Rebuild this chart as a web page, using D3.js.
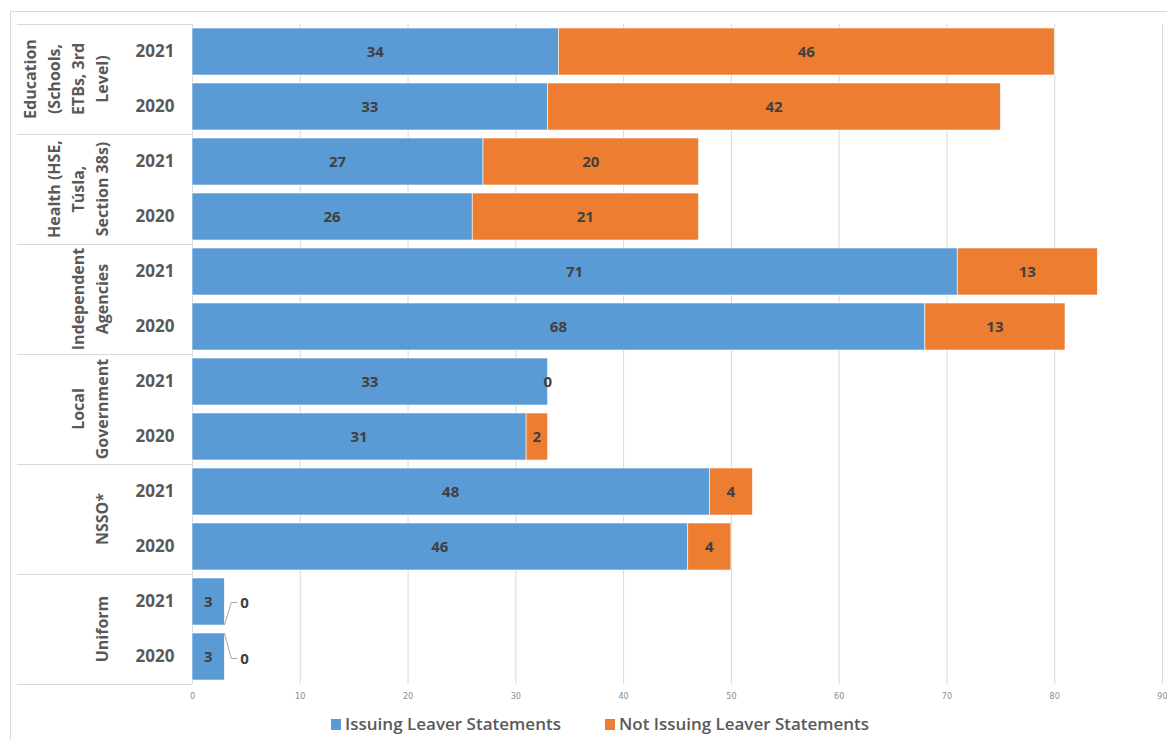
<!DOCTYPE html>
<html>
<head>
<meta charset="utf-8">
<script src="https://cdn.jsdelivr.net/npm/d3@7"></script>
<style>
  body { margin: 0; background: #fff; }
  text { font-family: "Open Sans", sans-serif; }
</style>
</head>
<body>
<div id="chart"></div>
<script>
// data
var categories = ["Education (Schools, ETBs, 3rd Level)", "Health (HSE, Túsla, Section 38s)",
  "Independent Agencies", "Local Government", "NSSO*", "Uniform"];
var categoryLines = [["Education", "(Schools,", "ETBs, 3rd", "Level)"],
  ["Health (HSE,", "Túsla,", "Section 38s)"],
  ["Independent", "Agencies"], ["Local", "Government"], ["NSSO*"], ["Uniform"]];
var years = ["2021", "2020"];
var issuing = [34, 33, 27, 26, 71, 68, 33, 31, 48, 46, 3, 3];
var notIssuing = [46, 42, 20, 21, 13, 13, 0, 2, 4, 4, 0, 0];
var seriesNames = ["Issuing Leaver Statements", "Not Issuing Leaver Statements"];
var xTicks = [0, 10, 20, 30, 40, 50, 60, 70, 80, 90];

var W = 1167, H = 740;
var margin = {top: 24, left: 192, right: 5, bottom: 56};
var width = W - margin.left - margin.right,
    height = H - margin.top - margin.bottom;

var svg = d3.select("#chart").append("svg")
  .attr("width", W).attr("height", H);

// outer frame
svg.append("rect")
  .attr("x", 10.5).attr("y", 11.5).attr("width", W).attr("height", H)
  .attr("fill", "none").attr("stroke", "#d9d9d9");

var g = svg.append("g").attr("transform", `translate(${margin.left},${margin.top})`);

// build rows
var rows = [];
categories.forEach(function(c, ci) {
  years.forEach(function(y, yi) {
    var i = ci * years.length + yi;
    rows.push({key: c + "|" + y, cat: ci, year: y, a: issuing[i], b: notIssuing[i]});
  });
});

var x = d3.scaleLinear().domain([0, 90]).range([0, 1162 - margin.left]);
var y = d3.scaleBand().domain(rows.map(d => d.key)).range([0, height])
  .paddingInner(0.145).paddingOuter(0.0725);

var color = d3.scaleOrdinal().domain(seriesNames).range(["#5b9bd5", "#ed7d31"]);

// gridlines
g.append("g")
  .call(d3.axisBottom(x).tickValues(xTicks).tickSize(height).tickFormat(""))
  .call(s => s.select(".domain").remove())
  .call(s => s.selectAll("line").attr("stroke", "#d9d9d9"));

// tick labels
g.append("g")
  .attr("transform", `translate(0,${height})`)
  .call(d3.axisBottom(x).tickValues(xTicks).tickSize(0).tickPadding(9))
  .call(s => s.select(".domain").remove())
  .call(s => s.selectAll("text").attr("fill", "#8c8c8c")
    .style("font-size", "9px").style("font-family", "'Liberation Sans Narrow', 'DejaVu Sans Condensed', sans-serif"));

// left category axis area
var groupH = y.step() * years.length;
var catAxis = g.append("g");
d3.range(categories.length + 1).forEach(function(i) {
  catAxis.append("line")
    .attr("x1", 17 - margin.left).attr("x2", 0)
    .attr("y1", i * groupH + 0.5).attr("y2", i * groupH + 0.5)
    .attr("stroke", "#d9d9d9");
});
catAxis.append("line").attr("x1", 0.5).attr("x2", 0.5).attr("y1", 0).attr("y2", height)
  .attr("stroke", "#d9d9d9");

// year labels
g.append("g").selectAll("text").data(rows).join("text")
  .attr("x", 155 - margin.left)
  .attr("y", d => y(d.key) + y.bandwidth() / 2)
  .attr("dy", "0.35em")
  .attr("text-anchor", "middle")
  .attr("fill", "#595959")
  .style("font-size", "17px").style("font-weight", "bold")
  .text(d => d.year);

// category labels (rotated, wrapped)
categoryLines.forEach(function(lines, ci) {
  var cy = ci * groupH + groupH / 2;
  var t = g.append("text")
    .attr("transform", `translate(${102 - margin.left},${cy}) rotate(-90)`)
    .attr("text-anchor", "middle")
    .attr("fill", "#595959")
    .style("font-size", "16px").style("font-weight", "bold");
  lines.forEach(function(l, li) {
    t.append("tspan").attr("x", 0)
      .attr("y", (li - (lines.length - 1)) * 24)
      .attr("dy", "0.35em")
      .text(l);
  });
});

// bars
var stacked = d3.stack().keys(["a", "b"])(rows);
var layers = g.append("g").selectAll("g").data(stacked).join("g")
  .attr("fill", (d, i) => color(seriesNames[i]));
layers.selectAll("rect").data(d => d).join("rect")
  .attr("x", d => x(d[0]))
  .attr("y", d => y(d.data.key))
  .attr("width", d => x(d[1]) - x(d[0]))
  .attr("height", y.bandwidth())
  .attr("stroke", "#fff").attr("stroke-width", 0.6);

// value labels
var labels = g.append("g");
stacked.forEach(function(layer) {
  layer.forEach(function(d) {
    var v = d[1] - d[0];
    var cx = (x(d[0]) + x(d[1])) / 2;
    var cy = y(d.data.key) + y.bandwidth() / 2;
    var isUniformZero = v === 0 && d.data.cat === categories.length - 1;
    if (isUniformZero) {
      // leader line to label outside the tiny bar
      var up = d.data.year === "2021";
      var endY = up ? y(d.data.key) + y.bandwidth() : y(d.data.key);
      var ly = up ? cy + 1 : cy + 2;
      labels.append("path")
        .attr("d", `M${x(d[1])},${endY} L${x(d[1]) + 7},${ly} L${x(d[1]) + 13},${ly}`)
        .attr("fill", "none").attr("stroke", "#a6a6a6").attr("stroke-width", 1);
      labels.append("text")
        .attr("x", x(d[1]) + 16).attr("y", ly).attr("dy", "0.35em")
        .attr("fill", "#404040").style("font-size", "15px").style("font-weight", "bold")
        .text(v);
      return;
    }
    labels.append("text")
      .attr("x", cx).attr("y", cy).attr("dy", "0.35em")
      .attr("text-anchor", "middle")
      .attr("fill", "#404040").style("font-size", "15px").style("font-weight", "bold")
      .text(v);
  });
});

// legend
var legend = svg.append("g").attr("transform", "translate(0,724)");
var legendX = [331, 605];
var legendW = [216, 250];
seriesNames.forEach(function(name, i) {
  legend.append("rect").attr("x", legendX[i]).attr("y", -5).attr("width", 10).attr("height", 11)
    .attr("fill", color(name));
  legend.append("text").attr("x", legendX[i] + 14).attr("y", 0).attr("dy", "0.35em")
    .attr("fill", "#595959").style("font-size", "17px").style("font-weight", "600")
    .attr("textLength", legendW[i]).attr("lengthAdjust", "spacingAndGlyphs")
    .text(name);
});
</script>
</body>
</html>
